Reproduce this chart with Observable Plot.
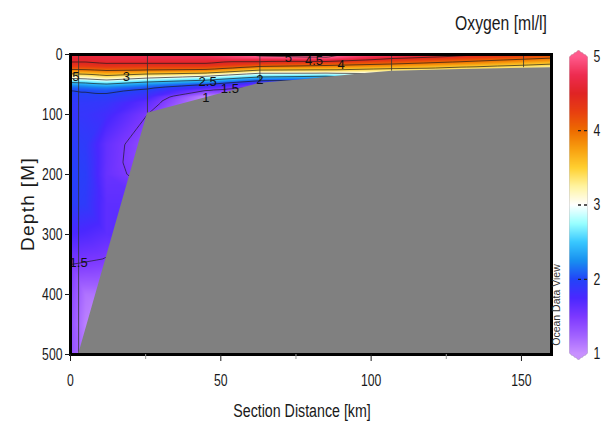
<!DOCTYPE html>
<html><head><meta charset="utf-8">
<script src="https://cdn.jsdelivr.net/npm/d3@7"></script>
<script src="https://cdn.jsdelivr.net/npm/@observablehq/plot@0.6"></script>
<style>
body{margin:0;background:#fff;}
#wrap{position:relative;width:615px;height:430px;overflow:hidden;background:#fff;}
.abs{position:absolute;white-space:nowrap;color:#1a1a1a;line-height:1;}
</style></head><body><div id="wrap"></div>
<script>
// ---- data ----
const depths = [0,5,10,15,20,25,30,35,40,45,50,55,60,70,80,100,150,200,250,300,350,400,450,500];
const gridDist = [0,5,12,25.6,45,63,85,107,130,160];
const oxy_0    = [4.65,4.6,4.55,4.45,4.3,4.0,3.65,3.3,3.0,2.6,2.3,2.1,2.0,1.95,1.9,1.88,1.95,1.98,1.95,1.75,1.5,1.4,1.35,1.35];
const oxy_5    = [4.65,4.6,4.55,4.45,4.3,4.02,3.7,3.35,3.05,2.65,2.35,2.15,2.02,1.95,1.9,1.87,1.92,1.95,1.92,1.72,1.48,1.15,1.08,1.12];
const oxy_12   = [4.7,4.65,4.6,4.5,4.35,4.1,3.8,3.5,3.2,2.8,2.45,2.2,2.05,1.95,1.88,1.8,1.62,1.6,1.65,1.65,1.45,1.15,1.0,1.0];
const oxy_26   = [4.75,4.7,4.6,4.5,4.3,4.05,3.7,3.3,2.95,2.55,2.25,2.05,1.95,1.8,1.65,1.5,1.35,1.4,1.65,1.7,1.5,1.2,1.0,1.0];
const oxy_45   = [4.8,4.75,4.6,4.5,4.3,4.0,3.6,3.1,2.7,2.35,2.0,1.75,1.5,1.05,1.0,1.0,1.0,1.0,1.0,1.0,1.0,1.0,1.0,1.0];
const oxy_63   = [5.05,4.95,4.6,4.35,4.0,3.6,3.1,2.7,2.3,1.9,1.6,1.45,1.35,1.2,1.1,1.0,1.0,1.0,1.0,1.0,1.0,1.0,1.0,1.0];
const oxy_85   = [5.1,5.0,4.65,4.2,3.9,3.55,3.1,2.6,2.2,1.9,1.7,1.6,1.5,1.4,1.3,1.2,1.1,1.0,1.0,1.0,1.0,1.0,1.0,1.0];
const oxy_107  = [4.95,4.6,4.3,4.05,3.75,3.4,3.1,2.8,2.5,2.3,2.1,2.0,1.9,1.8,1.7,1.6,1.5,1.4,1.3,1.2,1.1,1.0,1.0,1.0];
const oxy_130  = [4.6,4.35,4.1,3.85,3.55,3.3,3.05,2.8,2.6,2.4,2.2,2.1,2.0,1.9,1.8,1.7,1.6,1.5,1.4,1.3,1.2,1.1,1.0,1.0];
const oxy_160  = [4.15,4.05,3.8,3.55,3.3,3.15,3.0,2.8,2.6,2.4,2.2,2.1,2.0,1.9,1.8,1.7,1.6,1.5,1.4,1.3,1.2,1.1,1.0,1.0];
const profiles = [oxy_0,oxy_5,oxy_12,oxy_26,oxy_45,oxy_63,oxy_85,oxy_107,oxy_130,oxy_160];

const stations = [2.7,25.6,63,106.8,150.7];
const stationBottom = [500,98,48,28,22];
const bathDist  = [2.7,25.6,63,80,97,107,130,160];
const bathDepth = [500,98,48,41,32,28,25,22];

const labelDist  = [1.8,18.6,45.6,53,45,63,72.5,81,90,2.7];
const labelDepth = [37,38,45,57,72,43,5,11,17,348];
const labelText  = ["5","3","2.5","1.5","1","2","5","4.5","4","1.5"];

const contourLevels = [1,1.5,2,2.5,3,3.5,4,4.5,5];
const colorStops = [1,1.25,1.5,1.75,2,2.25,2.5,2.75,3,3.25,3.5,3.75,4,4.25,4.5,4.75,5];
const colorHex = ["#c890ff","#a060ff","#7c38ff","#4a28ff","#2244f8","#1890f0","#38c8ff","#98ffff","#ffffff","#fff4a0","#ffd030","#f8a010","#ee6c00","#e84010","#e02424","#ee2c50","#ff5a8c"];
const xTicks = [0,50,100,150];
const xMinor = [25,75,125];
const yTicks = [0,100,200,300,400,500];
const cbTicks = [1,2,3,4,5];
const cbMid = [2,3,4];

// ---- tables ----
const grid = [];
gridDist.forEach((d,i) => depths.forEach((z,j) => grid.push({d, z, o: profiles[i][j]})));
const stationTable = stations.map((d,i) => ({d, bottom: stationBottom[i]}));
const bath = bathDist.map((d,i) => ({d, z: bathDepth[i]}));
const labels = labelText.map((t,i) => ({d: labelDist[i], z: labelDepth[i], t}));

const SANS = '"Liberation Sans",Arial,sans-serif';
const colorScale = {type: "linear", domain: colorStops, range: colorHex, clamp: true};

const main = Plot.plot({
  width: 615, height: 430,
  marginLeft: 70, marginRight: 64, marginTop: 54, marginBottom: 76,
  x: {domain: [0,160]},
  y: {domain: [0,500], reverse: true},
  color: colorScale,
  style: {fontFamily: SANS, fontSize: "17px", background: "transparent", color: "#1a1a1a"},
  marks: [
    Plot.raster(grid, {x: "d", y: "z", fill: "o", interpolate: "barycentric", pixelSize: 1}),
    Plot.contour(grid, {x: "d", y: "z", value: "o", interpolate: "barycentric", pixelSize: 1,
      thresholds: contourLevels, fill: "none", stroke: "#1a1a1a", strokeWidth: 0.8, strokeOpacity: 0.85}),
    Plot.ruleX(stationTable, {x: "d", y1: 0, y2: "bottom", stroke: "#333", strokeWidth: 0.8}),
    Plot.areaY(bath, {x: "d", y1: "z", y2: 500, fill: "#808080"}),
    Plot.text(labels, {x: "d", y: "z", text: "t", fontSize: 13, fill: "#111", clip: true, ariaLabel: "clabel"}),
    Plot.frame({stroke: "#000", strokeWidth: 3}),
    Plot.axisY(yTicks, {tickSize: 5, tickPadding: 3, label: null, fontSize: 17}),
    Plot.axisX(xTicks, {tickSize: 7, tickPadding: 12, label: null, fontSize: 17}),
    Plot.axisX(xMinor, {tickSize: 5, tickFormat: () => "", label: null, stroke: "#999"})
  ]
});

const tip = 0.08;
function inside(x, y) {
  let w = 0.5;
  if (y > 5) w = 0.5 * (1 - (y - 5) / tip);
  else if (y < 1) w = 0.5 * (1 - (1 - y) / tip);
  return Math.abs(x - 0.5) <= w;
}
const bar = Plot.plot({
  width: 60, height: 340,
  marginLeft: 14, marginRight: 28, marginTop: 20, marginBottom: 11,
  x: {domain: [0,1], axis: null},
  y: {domain: [1 - tip, 5 + tip], axis: null},
  color: colorScale,
  style: {fontFamily: SANS, fontSize: "17px", background: "transparent", color: "#1a1a1a", overflow: "visible"},
  marks: [
    Plot.raster({x1: 0, x2: 1, y1: 1 - tip, y2: 5 + tip, pixelSize: 1,
      fill: (x, y) => inside(x, y) ? Math.max(1, Math.min(5, y)) : NaN,
      fillOpacity: (x, y) => inside(x, y) ? 1 : 0}),
    Plot.tickY(cbMid, {y: d => d, insetLeft: 9, insetRight: -2, stroke: "#222", strokeWidth: 1.3, strokeDasharray: "3,3"}),
    Plot.axisY(cbTicks, {anchor: "right", tickSize: 0, tickPadding: 6, label: null, fontSize: 17, tickFormat: d => String(d)})
  ]
});

// horizontally condense text (the reference uses a narrow face), keeping each anchor point fixed
function squeeze(svg, sel, k) {
  svg.querySelectorAll(sel).forEach(t => {
    const x = parseFloat(t.getAttribute("x")) || 0;
    const tr = t.getAttribute("transform") || "";
    t.setAttribute("transform", `${tr} translate(${x},0) scale(${k},1) translate(${-x},0)`);
  });
}
squeeze(main, 'g[aria-label="x-axis tick label"] text, g[aria-label="y-axis tick label"] text', 0.72);
squeeze(main, 'g[aria-label="clabel"] text', 0.8);
squeeze(bar, 'g[aria-label="y-axis tick label"] text', 0.72);

const wrap = document.getElementById("wrap");
main.style.position = "absolute"; main.style.left = "0px"; main.style.top = "0px";
bar.style.position = "absolute"; bar.style.left = "555px"; bar.style.top = "30px";
wrap.appendChild(main);
wrap.appendChild(bar);
const img = bar.querySelector("image");
if (img) img.style.filter = "drop-shadow(0 0 0.6px #888)";

function addText(txt, x, y, css, tf) {
  const d = document.createElement("div");
  d.className = "abs";
  d.textContent = txt;
  d.style.left = x + "px"; d.style.top = y + "px";
  d.style.transform = "translate(-50%,-50%) " + tf;
  Object.assign(d.style, css);
  wrap.appendChild(d);
}
addText("Oxygen [ml/l]", 501, 22, {fontFamily: SANS, fontSize: "21px"}, "scaleX(0.75)");
addText("Section Distance [km]", 302, 411, {fontFamily: SANS, fontSize: "18px"}, "scaleX(0.79)");
addText("Depth [M]", 27, 204, {fontFamily: SANS, fontSize: "19px", letterSpacing: "1.3px"}, "rotate(-90deg)");
addText("Ocean Data View", 556, 305, {fontFamily: SANS, fontSize: "10.5px", color: "#333"}, "rotate(-90deg)");
</script>
</body></html>
